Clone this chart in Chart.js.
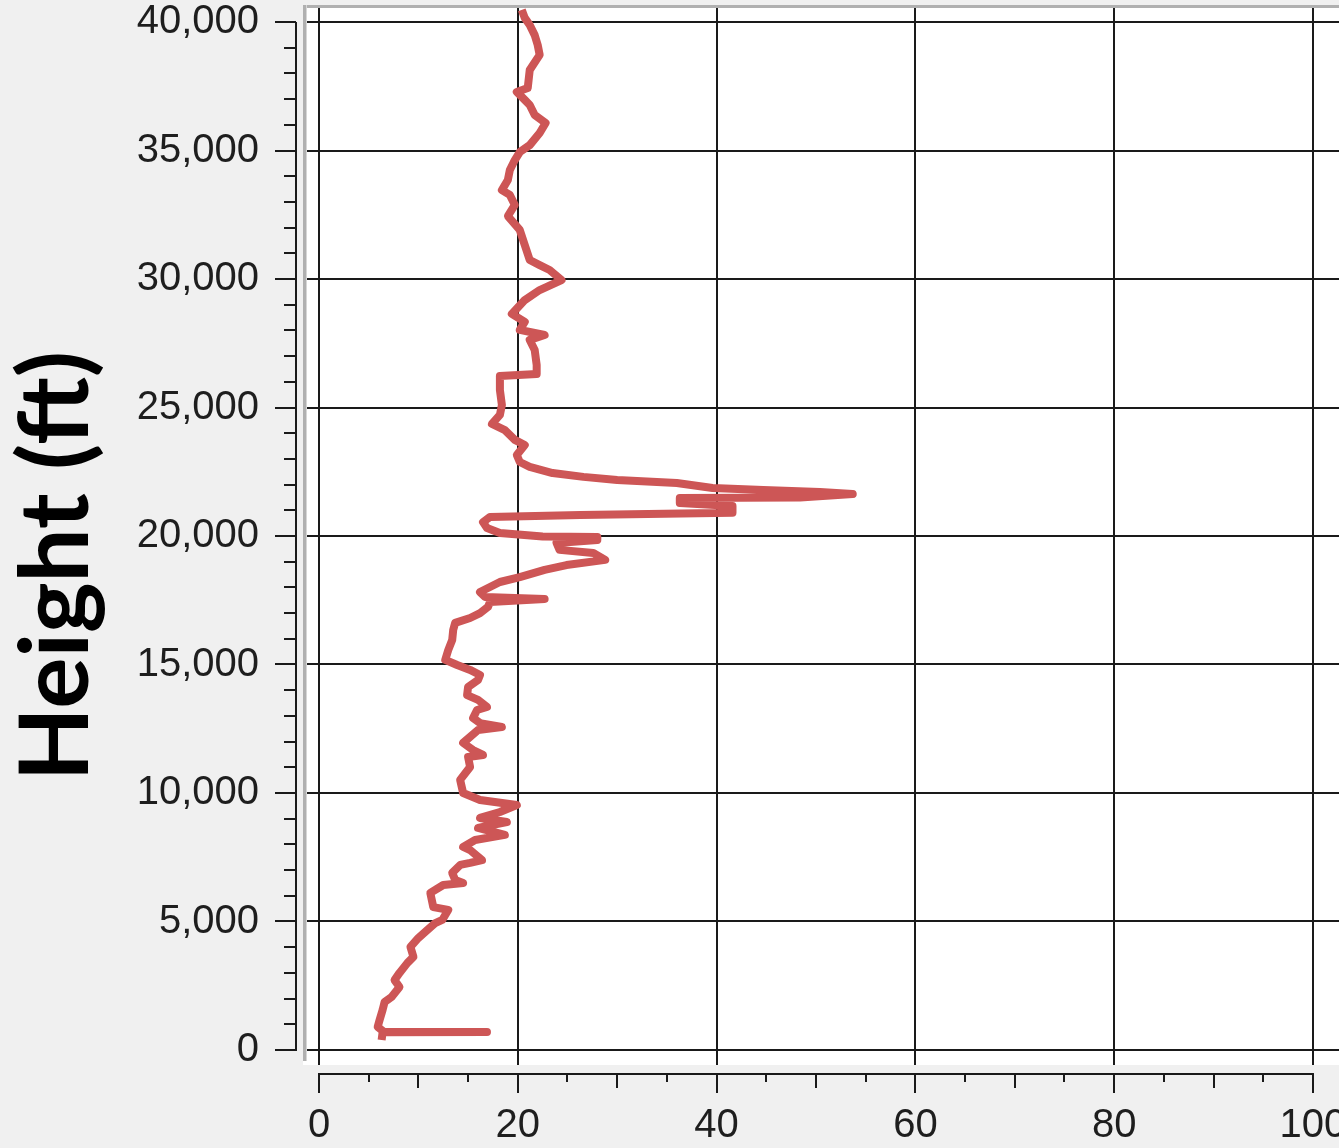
<!DOCTYPE html>
<html>
<head>
<meta charset="utf-8">
<script src="https://cdn.jsdelivr.net/npm/chart.js@4.4.1/dist/chart.umd.min.js"></script>
<style>
html, body { margin: 0; padding: 0; background: #f0f0f0; }
canvas { display: block; }
</style>
</head>
<body>
<canvas id="profile" width="1339" height="1148"></canvas>
<script>
// profile, bottom to top
var heightFt = [390, 690, 700, 710, 895, 1170, 1560, 1870, 2060, 2450,
    2720, 3000, 3390, 3620, 4010, 4360, 4670, 4940, 5060, 5450,
    5560, 6110, 6420, 6500, 6620, 6890, 7200, 7280, 7390, 7780,
    7900, 8170, 8370, 8640, 8870, 9030, 9260, 9530, 9730, 10000,
    10510, 11010, 11400, 11480, 11670, 11950, 12450, 12570, 12720, 12920,
    13230, 13350, 13620, 13810, 14120, 14400, 14590, 14790, 14980, 15180,
    15560, 15950, 16340, 16620, 16810, 17000, 17240, 17430, 17550, 17630,
    17820, 18210, 18400, 18680, 18870, 19070, 19340, 19460, 19730, 19840,
    19960, 19980, 20120, 20310, 20540, 20740, 20820, 20900, 21170, 21280,
    21480, 21500, 21630, 21710, 21790, 21870, 22060, 22180, 22300, 22450,
    22690, 22880, 23150, 23540, 23740, 24120, 24360, 24710, 25100, 25680,
    26230, 26300, 26650, 27240, 27630, 27820, 28020, 28330, 28640, 29180,
    29570, 29960, 30350, 30540, 30740, 31320, 31910, 32450, 32880, 33270,
    33460, 33850, 34240, 34630, 34940, 35210, 35680, 36070, 36380, 36770,
    36970, 37280, 37430, 38130, 38720, 39110, 39490, 39880, 40160, 40470];

var speed = [6.3, 6.4, 16.9, 6.5, 5.9, 6.1, 6.4, 6.6, 7.3, 8.1,
    7.6, 8.1, 8.9, 9.5, 9.2, 10.0, 10.9, 11.7, 12.4, 13.0,
    11.5, 11.2, 12.5, 14.5, 13.7, 13.4, 14.2, 15.2, 16.4, 15.2,
    14.5, 15.7, 18.7, 16.0, 18.9, 16.2, 18.2, 19.9, 16.2, 14.5,
    14.2, 15.2, 15.0, 16.5, 15.5, 14.5, 16.0, 18.4, 16.2, 15.5,
    15.9, 16.9, 16.0, 14.9, 15.0, 16.0, 16.2, 15.2, 13.9, 12.7,
    13.0, 13.4, 13.5, 13.7, 15.2, 16.2, 17.0, 17.2, 22.7, 16.7,
    16.2, 18.2, 20.2, 22.7, 24.9, 28.8, 27.6, 24.2, 23.9, 28.0,
    28.0, 22.5, 18.2, 16.9, 16.5, 17.2, 26.3, 41.6, 41.6, 36.3,
    36.3, 48.4, 53.7, 50.4, 44.7, 39.6, 36.0, 30.0, 26.6, 23.5,
    21.2, 20.2, 19.9, 20.7, 19.7, 18.7, 17.4, 18.2, 18.4, 18.2,
    18.2, 21.9, 21.9, 21.7, 21.2, 22.7, 20.2, 20.7, 19.4, 20.7,
    22.2, 24.4, 23.2, 22.2, 21.2, 20.7, 20.2, 19.0, 19.7, 19.2,
    18.4, 19.0, 19.2, 19.7, 20.2, 21.2, 22.2, 22.8, 21.7, 21.2,
    20.7, 19.9, 21.0, 21.2, 22.2, 22.0, 21.7, 21.2, 20.7, 20.4];

var xTicks = [0, 20, 40, 60, 80, 100];
var yTicks = [0, 5000, 10000, 15000, 20000, 25000, 30000, 35000, 40000];
var xMinorStep = 5;
var yMinorStep = 1000;
var yTitle = 'Height (ft)';

var points = speed.map(function (s, i) { return { x: s, y: heightFt[i] }; });

var tickFont = { family: '"Liberation Sans", Arial, sans-serif', size: 40 };

// white plot box, grey frame, detached axes with minor ticks, big title
var framePlugin = {
    id: 'framePlugin',
    beforeDraw: function (chart) {
        var a = chart.chartArea, c = chart.ctx;
        c.save();
        c.fillStyle = '#ffffff';
        c.fillRect(a.left, a.top, a.right - a.left, a.bottom - a.top);
        c.restore();
    },
    beforeDatasetsDraw: function (chart) {
        var a = chart.chartArea, c = chart.ctx;
        c.save();
        c.fillStyle = '#b0b0b0';
        c.fillRect(a.left, a.top - 3, a.right - a.left, 3);
        c.fillRect(a.left, a.top - 3, 3, a.bottom - a.top - 1);
        c.fillStyle = '#d6d6d6';
        c.fillRect(a.left + 3, a.top - 3, 1, a.bottom - a.top - 1);
        c.restore();
    },
    afterDraw: function (chart) {
        var c = chart.ctx, xs = chart.scales.x, ys = chart.scales.y;
        var axX = chart.chartArea.left - 7;
        var axY = chart.chartArea.bottom + 9;
        var y0 = ys.getPixelForValue(yTicks[0]);
        var y1 = ys.getPixelForValue(yTicks[yTicks.length - 1]);
        var x0 = xs.getPixelForValue(xTicks[0]);
        var x1 = xs.getPixelForValue(xTicks[xTicks.length - 1]);
        c.save();
        c.strokeStyle = '#1a1a1a';
        c.lineWidth = 2;
        c.beginPath();
        c.moveTo(axX, y1);
        c.lineTo(axX, y0 + 1);
        for (var v = yTicks[0]; v <= yTicks[yTicks.length - 1]; v += yMinorStep) {
            var py = Math.round(ys.getPixelForValue(v));
            var len = (v % 5000 === 0) ? 21 : 12;
            c.moveTo(axX, py);
            c.lineTo(axX - len, py);
        }
        c.moveTo(x0 - 1, axY);
        c.lineTo(x1 + 1, axY);
        for (var u = xTicks[0]; u <= xTicks[xTicks.length - 1]; u += xMinorStep) {
            var px = Math.round(xs.getPixelForValue(u));
            var l = (u % 20 === 0) ? 19 : (u % 10 === 0 ? 14 : 8);
            c.moveTo(px, axY);
            c.lineTo(px, axY + l);
        }
        c.stroke();

        c.translate(88, 566);
        c.rotate(-Math.PI / 2);
        c.font = 'bold 96px Lato, "Open Sans", sans-serif';
        c.textAlign = 'center';
        c.textBaseline = 'alphabetic';
        c.fillStyle = '#000000';
        c.fillText(yTitle, 0, 0);
        c.restore();
    }
};

new Chart(document.getElementById('profile'), {
    type: 'scatter',
    data: {
        datasets: [{
            data: points,
            showLine: true,
            borderColor: '#cd5656',
            backgroundColor: '#cd5656',
            borderWidth: 8,
            borderJoinStyle: 'round',
            pointRadius: 0,
            tension: 0,
            fill: false
        }]
    },
    options: {
        responsive: false,
        animation: false,
        layout: { padding: { top: 8, left: 0, right: 0, bottom: 0 } },
        plugins: { legend: { display: false }, tooltip: { enabled: false } },
        scales: {
            x: {
                type: 'linear',
                min: -1.61,
                max: 102.62,
                afterBuildTicks: function (s) { s.ticks = xTicks.map(function (v) { return { value: v }; }); },
                afterFit: function (s) { s.height = 83; s.paddingLeft = 0; s.paddingRight = 0; },
                border: { display: false },
                grid: { color: '#1a1a1a', lineWidth: 2, drawTicks: false },
                ticks: { font: tickFont, color: '#1e1e1e', padding: 37, maxRotation: 0, autoSkip: false }
            },
            y: {
                type: 'linear',
                min: -584,
                max: 40545,
                afterBuildTicks: function (s) { s.ticks = yTicks.map(function (v) { return { value: v }; }); },
                afterFit: function (s) { s.width = 303; s.paddingTop = 0; s.paddingBottom = 0; },
                border: { display: false },
                grid: { color: '#1a1a1a', lineWidth: 2, drawTicks: false },
                ticks: {
                    font: tickFont, color: '#1e1e1e', padding: 44, autoSkip: false,
                    callback: function (v) { return v.toLocaleString('en-US'); }
                }
            }
        }
    },
    plugins: [framePlugin]
});
</script>
</body>
</html>
